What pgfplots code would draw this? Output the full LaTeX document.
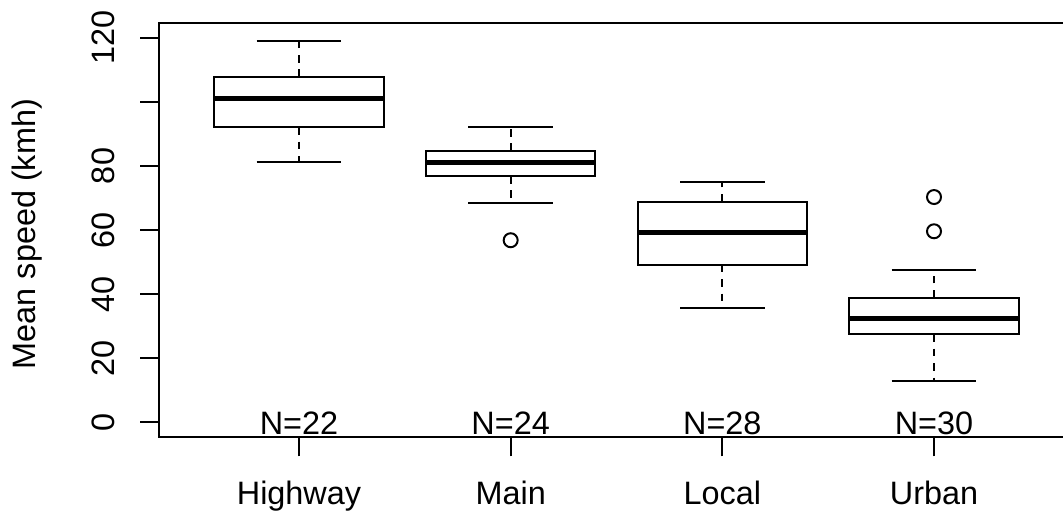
\documentclass[border=0pt]{standalone}
\usepackage{fontspec}
\setmainfont{Liberation Sans}
\usepackage{pgfplots}
\pgfplotsset{compat=1.18}
\begin{document}
\fontsize{16.2pt}{19pt}\selectfont
\begin{tikzpicture}[x=1pt,y=1pt]
\useasboundingbox (0,0) rectangle (531.5,259);
\clip (0,0) rectangle (531.5,259);
\begin{axis}[
  at={(79.65pt,40.3pt)}, anchor=south west,
  scale only axis, width=457.2pt, height=207.4pt,
  xmin=0.34, xmax=4.66, ymin=-4.8, ymax=124.8,
  axis line style={line width=1pt, black},
  tick align=outside, tick pos=left,
  major tick length=9.5pt,
  tick style={line width=1pt, black},
  xtick={1,2,3,4},
  xticklabels={Highway,Main,Local,Urban},
  ytick={0,20,40,60,80,100,120},
  yticklabels={0,20,40,60,80,,120},
  /pgf/number format/assume math mode=true,
  xticklabel style={anchor=base, font=\fontsize{16.2pt}{19pt}\selectfont},
  xticklabel shift=24pt,
  yticklabel style={rotate=90, anchor=base, font=\fontsize{16.2pt}{19pt}\selectfont},
  yticklabel shift=12.8pt,
  ylabel={Mean speed (kmh)},
  every axis y label/.style={at={(axis description cs:-0.1359,0.49)}, rotate=90, anchor=base, font=\fontsize{16.2pt}{19pt}\selectfont},
  box/.style={black, line width=1pt, no marks},
  med/.style={black, line width=2.7pt, no marks},
  wh/.style={black, line width=1pt, no marks, dash pattern=on 3.8pt off 3.4pt},
  cap/.style={black, line width=1pt, no marks},
  outl/.style={black, only marks, mark=o, mark size=3.5pt, mark options={solid, line width=1pt}},
]
% Highway: lw 81.1, q1 92.1, med 101.1, q3 107.8, uw 119.1
\addplot[wh] coordinates {(1,107.8) (1,119.1)};
\addplot[wh] coordinates {(1,92.1) (1,81.1)};
\addplot[cap] coordinates {(0.8,119.1) (1.2,119.1)};
\addplot[cap] coordinates {(0.8,81.1) (1.2,81.1)};
\addplot[box] coordinates {(0.6,92.1) (1.4,92.1) (1.4,107.8) (0.6,107.8) (0.6,92.1)} -- cycle;
\addplot[med] coordinates {(0.6,101.1) (1.4,101.1)};
% Main: lw 68.3, q1 76.9, med 81.1, q3 84.7, uw 92.2, outlier 56.8
\addplot[wh] coordinates {(2,84.7) (2,92.2)};
\addplot[wh] coordinates {(2,76.9) (2,68.3)};
\addplot[cap] coordinates {(1.8,92.2) (2.2,92.2)};
\addplot[cap] coordinates {(1.8,68.3) (2.2,68.3)};
\addplot[box] coordinates {(1.6,76.9) (2.4,76.9) (2.4,84.7) (1.6,84.7) (1.6,76.9)} -- cycle;
\addplot[med] coordinates {(1.6,81.1) (2.4,81.1)};
\addplot[outl] coordinates {(2,56.8)};
% Local: lw 35.7, q1 49.1, med 59.2, q3 68.8, uw 74.9
\addplot[wh] coordinates {(3,68.8) (3,74.9)};
\addplot[wh] coordinates {(3,49.1) (3,35.7)};
\addplot[cap] coordinates {(2.8,74.9) (3.2,74.9)};
\addplot[cap] coordinates {(2.8,35.7) (3.2,35.7)};
\addplot[box] coordinates {(2.6,49.1) (3.4,49.1) (3.4,68.8) (2.6,68.8) (2.6,49.1)} -- cycle;
\addplot[med] coordinates {(2.6,59.2) (3.4,59.2)};
% Urban: lw 12.9, q1 27.4, med 32.4, q3 38.8, uw 47.4, outliers 59.6, 70.3
\addplot[wh] coordinates {(4,38.8) (4,47.4)};
\addplot[wh] coordinates {(4,27.4) (4,12.9)};
\addplot[cap] coordinates {(3.8,47.4) (4.2,47.4)};
\addplot[cap] coordinates {(3.8,12.9) (4.2,12.9)};
\addplot[box] coordinates {(3.6,27.4) (4.4,27.4) (4.4,38.8) (3.6,38.8) (3.6,27.4)} -- cycle;
\addplot[med] coordinates {(3.6,32.4) (4.4,32.4)};
\addplot[outl] coordinates {(4,59.6) (4,70.3)};
\node[anchor=base, yshift=-6pt] at (axis cs:1,0) {N=22};
\node[anchor=base, yshift=-6pt] at (axis cs:2,0) {N=24};
\node[anchor=base, yshift=-6pt] at (axis cs:3,0) {N=28};
\node[anchor=base, yshift=-6pt] at (axis cs:4,0) {N=30};
\end{axis}
\end{tikzpicture}
\end{document}
